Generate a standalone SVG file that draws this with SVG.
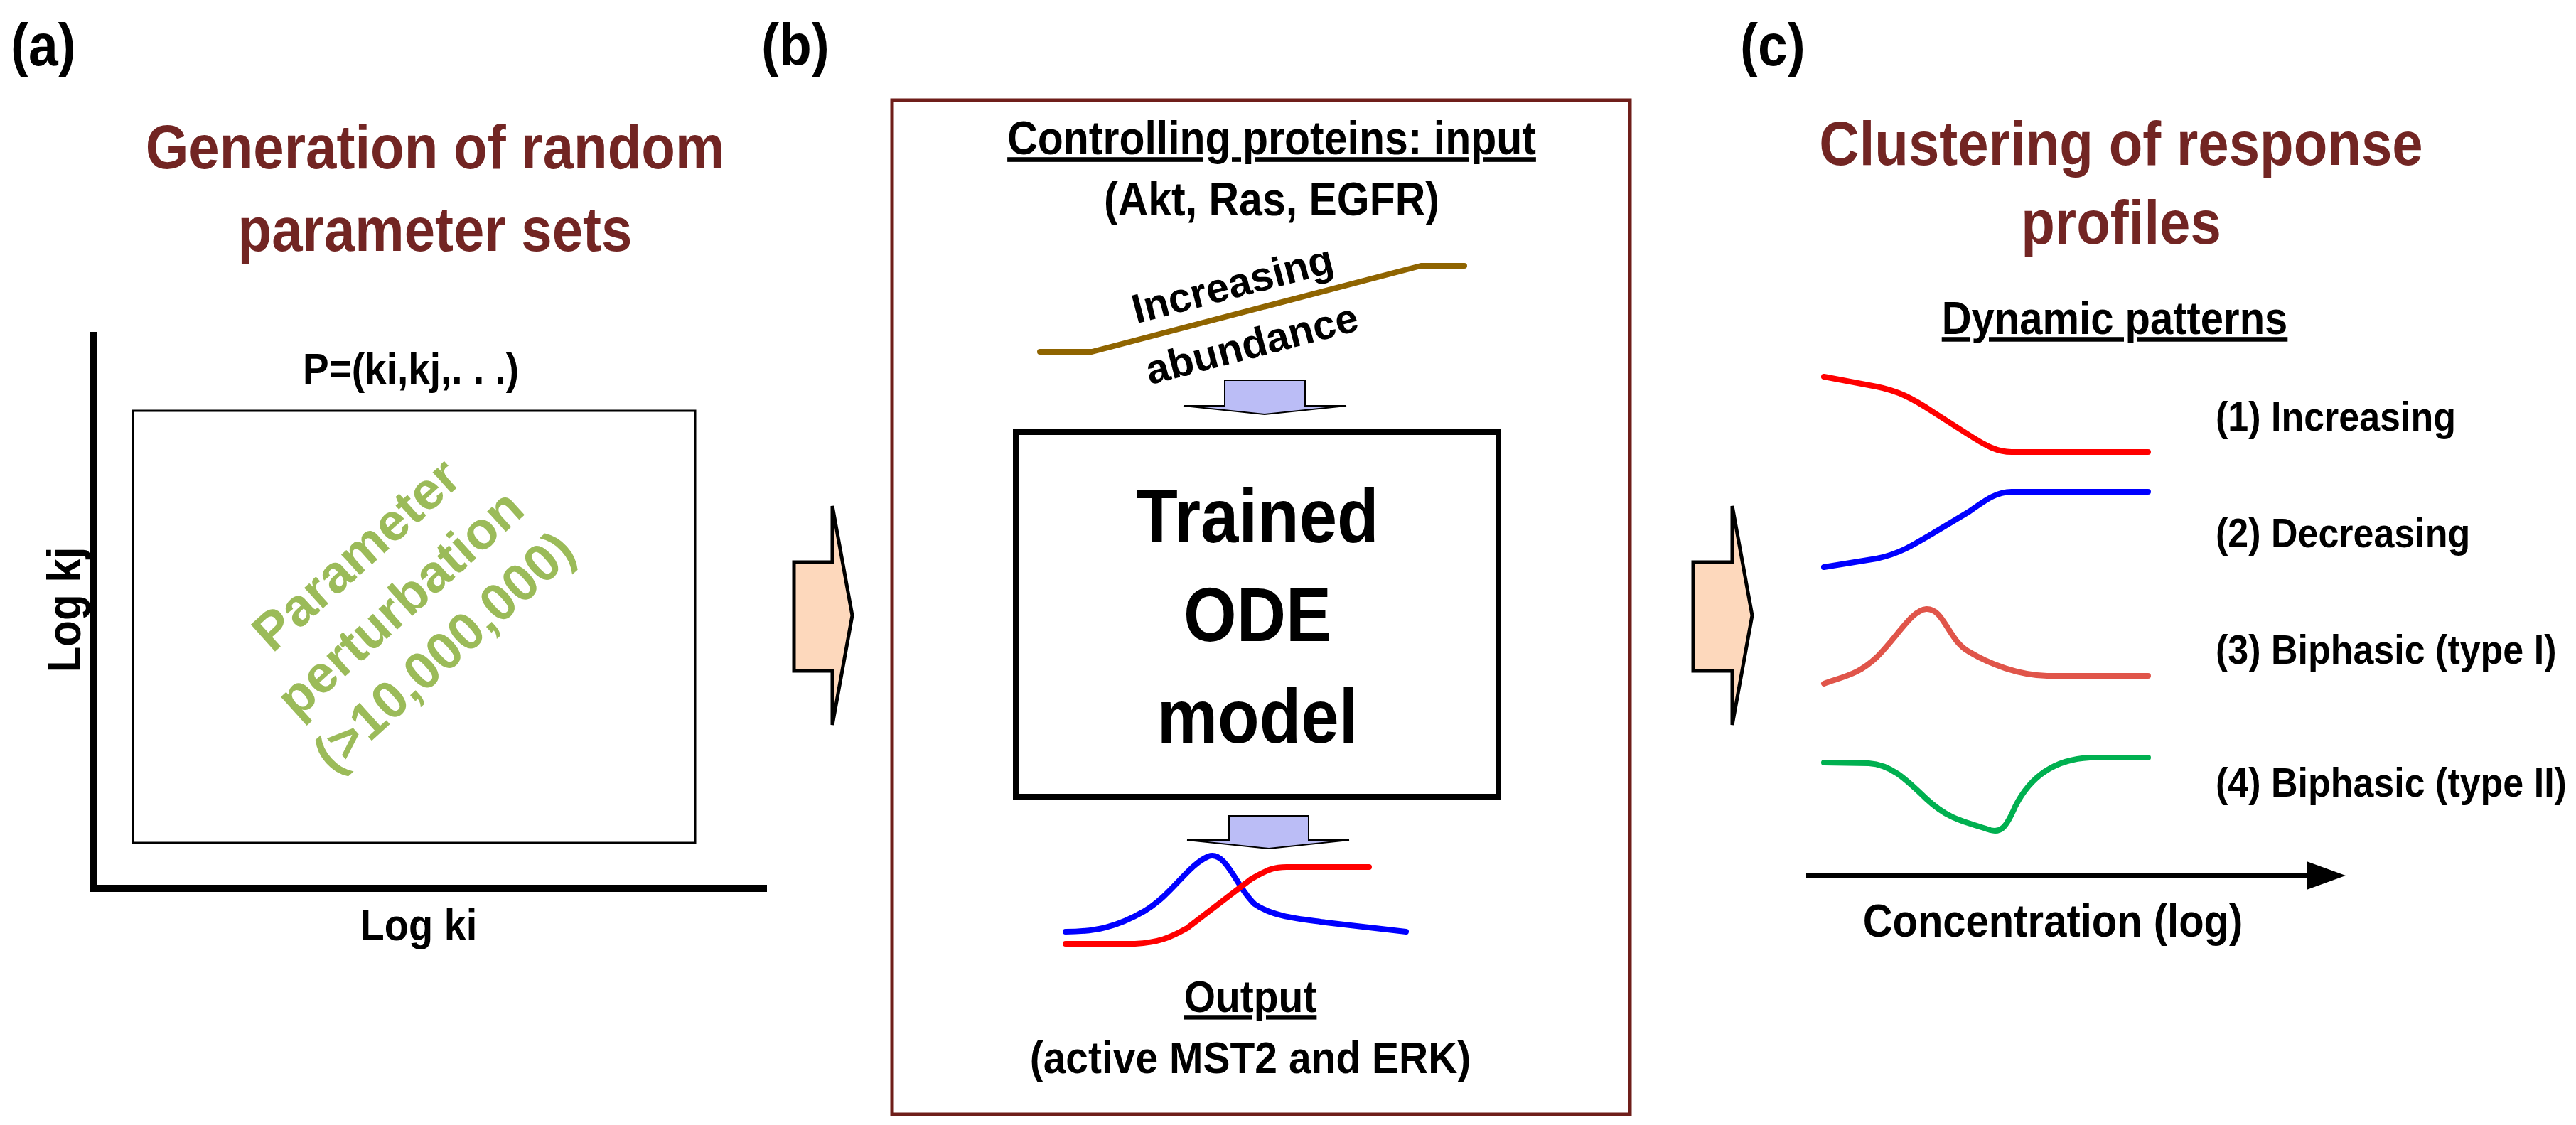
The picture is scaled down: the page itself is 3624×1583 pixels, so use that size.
<svg xmlns="http://www.w3.org/2000/svg" width="3624" height="1583" viewBox="0 0 3624 1583">
<style>
text{font-family:"Liberation Sans",Arial,sans-serif;font-weight:bold;fill:#000}
.t{fill:#722523;font-size:78px;text-anchor:middle}
.lab{font-size:75px}
.m{text-anchor:middle}
.u{text-decoration:underline}
.g{fill:#9BBB59;font-size:74px;text-anchor:middle}
.c{fill:none;stroke-width:8;stroke-linecap:round;stroke-linejoin:round}
.big{fill:#FDD8BC;stroke:#000;stroke-width:5;stroke-linejoin:miter}
.sm{fill:#BBBDF6;stroke:#000;stroke-width:2}
</style>
<rect width="3624" height="1583" fill="#fff"/>
<g id="panel-a">
<text class="lab" transform="translate(15,92) scale(1,1.12)">(a)</text>
<text class="t" transform="translate(612,237) scale(1,1.12)">Generation of random</text>
<text class="t" transform="translate(612,353) scale(1,1.12)">parameter sets</text>
<path d="M132,467 V1250 H1079" fill="none" stroke="#000" stroke-width="10"/>
<rect x="187" y="578" width="791" height="608" fill="none" stroke="#000" stroke-width="3"/>
<text class="m" font-size="55" transform="translate(578,540) scale(1,1.12)">P=(ki,kj,. . .)</text>
<text class="m" font-size="56" transform="translate(589,1323) scale(1,1.12)">Log ki</text>
<text class="m" font-size="60" transform="translate(113,858) rotate(-90) scale(1,1.12)">Log kj</text>
<g transform="translate(562,848) rotate(-42)">
<text class="g" y="-66">Parameter</text>
<text class="g" y="26">perturbation</text>
<text class="g" y="118">(&gt;10,000,000)</text>
</g>
</g>
<g id="arrow-ab"><polygon class="big" points="1117,791 1171,791 1171,712 1199,866 1171,1020 1171,944 1117,944"/></g>
<g id="panel-b">
<text class="lab" transform="translate(1071,92) scale(1,1.12)">(b)</text>
<rect x="1255" y="141" width="1038" height="1427" fill="none" stroke="#6F1E1A" stroke-width="5"/>
<text class="m u" font-size="59" transform="translate(1789,217) scale(1,1.12)">Controlling proteins: input</text>
<text class="m" font-size="59" transform="translate(1789,303) scale(1,1.12)">(Akt, Ras, EGFR)</text>
<polyline class="c" points="1463,495 1536,495 1999,374 2060,374" stroke="#8F6400"/>
<text class="m" font-size="58" transform="translate(1739,419) rotate(-14.6)">Increasing</text>
<text class="m" font-size="58" transform="translate(1766,503) rotate(-14.6)">abundance</text>
<polygon class="sm" points="1723,535 1836,535 1836,571 1894,571 1779,583 1665,571 1723,571"/>
<g id="ode">
<rect x="1429" y="608" width="679" height="513" fill="#fff" stroke="#000" stroke-width="8"/>
<text class="m" font-size="96" transform="translate(1769,763) scale(1,1.12)">Trained</text>
<text class="m" font-size="96" transform="translate(1769,902) scale(1,1.12)">ODE</text>
<text class="m" font-size="96" transform="translate(1769,1045) scale(1,1.12)">model</text>
</g>
<polygon class="sm" points="1729,1148 1841,1148 1841,1182 1898,1182 1785,1194 1670,1182 1729,1182"/>
<path class="c" stroke="#0000FF" d="M1499,1311 C1540,1311 1570,1305 1610,1282 C1650,1258 1670,1218 1700,1205 C1725,1196 1740,1250 1765,1272 C1790,1290 1830,1293 1865,1298 L1978,1311"/>
<path class="c" stroke="#FF0000" d="M1499,1328 L1597,1328 C1630,1326 1645,1320 1670,1306 L1760,1237 C1785,1222 1795,1220 1810,1220 L1926,1220"/>
<text class="m u" font-size="57" transform="translate(1759,1424) scale(1,1.12)">Output</text>
<text class="m" font-size="57" transform="translate(1759,1510) scale(1,1.12)">(active MST2 and ERK)</text>
</g>
<g id="arrow-bc"><polygon class="big" points="2382,791 2437,791 2437,712 2465,866 2437,1020 2437,944 2382,944"/></g>
<g id="panel-c">
<text class="lab" transform="translate(2448,92) scale(1,1.12)">(c)</text>
<text class="t" transform="translate(2984,232) scale(1,1.12)">Clustering of response</text>
<text class="t" transform="translate(2984,343) scale(1,1.12)">profiles</text>
<text class="m u" font-size="58" transform="translate(2975,470) scale(1,1.12)">Dynamic patterns</text>
<path class="c" stroke="#FF0000" d="M2566,530 L2640,544 C2670,550 2690,560 2720,580 L2770,612 C2795,628 2810,636 2830,636 L3022,636"/>
<path class="c" stroke="#0000FF" d="M2566,798 L2640,786 C2670,780 2690,768 2720,750 L2770,720 C2795,702 2810,692 2830,692 L3022,692"/>
<path class="c" stroke="#E0554A" d="M2566,962 C2600,950 2615,948 2640,925 C2670,895 2690,858 2710,857 C2735,856 2740,900 2770,917 C2800,935 2840,950 2880,951 L3022,951"/>
<path class="c" stroke="#00B050" d="M2566,1073 L2629,1074 C2660,1076 2680,1095 2710,1124 C2740,1152 2760,1155 2800,1168 C2815,1172 2822,1165 2835,1135 C2860,1085 2900,1068 2940,1066 L3022,1066"/>
<text font-size="52" transform="translate(3117,606) scale(1,1.12)">(1) Increasing</text>
<text font-size="52" transform="translate(3117,770) scale(1,1.12)">(2) Decreasing</text>
<text font-size="52" transform="translate(3117,934) scale(1,1.12)">(3) Biphasic (type I)</text>
<text font-size="52" transform="translate(3117,1121) scale(1,1.12)">(4) Biphasic (type II)</text>
<line x1="2541" y1="1232" x2="3250" y2="1232" stroke="#000" stroke-width="6"/>
<polygon points="3245,1212 3300,1232 3245,1252" fill="#000"/>
<text class="m" font-size="58" transform="translate(2888,1318) scale(1,1.12)">Concentration (log)</text>
</g>
</svg>
